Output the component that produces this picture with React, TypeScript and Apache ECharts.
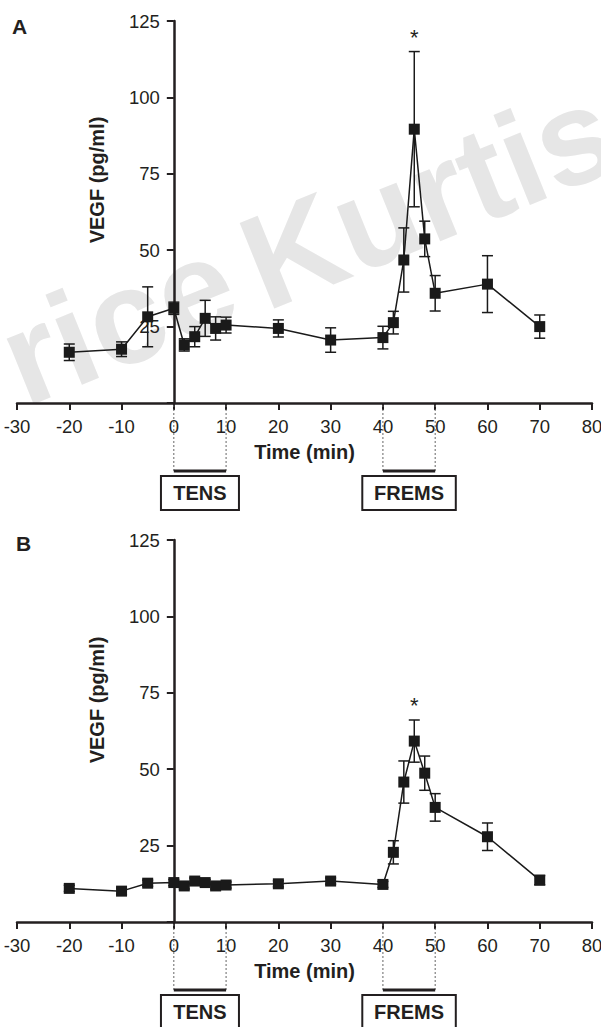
import React, { useEffect, useRef } from "react";
import * as echarts from "echarts";

// ---- data ----
const times = [-20, -10, -5, 0, 2, 4, 6, 8, 10, 20, 30, 40, 42, 44, 46, 48, 50, 60, 70];
const vegfA = [16.6, 17.6, 28.2, 31.0, 19.0, 21.7, 27.7, 24.4, 25.5, 24.4, 20.6, 21.4, 26.3, 46.8, 89.6, 53.7, 35.9, 38.9, 25.0];
const errA = [2.7, 2.4, 9.8, 2.0, 2.0, 3.3, 5.9, 3.8, 2.6, 2.8, 4.0, 3.7, 3.7, 10.5, 25.4, 5.8, 5.8, 9.3, 3.8];
const vegfB = [11.0, 10.1, 12.7, 12.9, 11.8, 13.4, 12.9, 11.8, 12.1, 12.5, 13.4, 12.3, 22.8, 45.8, 59.2, 48.7, 37.5, 27.9, 13.7];
const errB = [1.0, 1.0, 1.0, 1.0, 1.0, 1.0, 1.0, 1.0, 1.0, 1.0, 1.0, 1.0, 3.8, 6.9, 6.9, 5.6, 4.5, 4.5, 1.5];
const starTime = 46;
const xTicks = { min: -30, max: 80, interval: 10 };
const yTicks = { min: 0, max: 125, interval: 25 };
const stimStart = [0, 40];
const stimEnd = [10, 50];
const stimLabels = ["TENS", "FREMS"];
const panelLabels = ["A", "B"];
const yTitle = "VEGF (pg/ml)";
const xTitle = "Time (min)";
const watermark = ["rice", "Kurtis"];

const FONT = "'Liberation Sans', Arial, Helvetica, sans-serif";
const INK = "#231f20";

const GRID_LEFT = 17;
const GRID_WIDTH = 575;

function buildOption() {
  const grids = [
    { left: GRID_LEFT, top: 21, width: GRID_WIDTH, height: 382, outerBoundsMode: "none", containLabel: false },
    { left: GRID_LEFT, top: 540, width: GRID_WIDTH, height: 382, outerBoundsMode: "none", containLabel: false },
  ];
  const panels = [
    { v: vegfA, e: errA },
    { v: vegfB, e: errB },
  ];
  // y axis sits at time 0: shift it inward from the grid's left edge
  const zeroOffset = ((0 - xTicks.min) / (xTicks.max - xTicks.min)) * GRID_WIDTH;

  const xAxis = grids.map((_, i) => ({
    type: "value",
    gridIndex: i,
    min: xTicks.min,
    max: xTicks.max,
    interval: xTicks.interval,
    axisLine: { show: true, onZero: false, lineStyle: { color: INK, width: 2.5 } },
    axisTick: { show: true, length: 7, lineStyle: { color: INK, width: 2 } },
    axisLabel: { margin: 14, fontSize: 18.5, color: INK, fontFamily: FONT },
    splitLine: { show: false },
    name: xTitle,
    nameLocation: "middle",
    nameGap: 39,
    nameTextStyle: { fontSize: 20, fontWeight: "bold", color: INK, fontFamily: FONT },
  }));

  const yAxis = grids.map((_, i) => ({
    type: "value",
    gridIndex: i,
    position: "left",
    offset: -zeroOffset,
    min: yTicks.min,
    max: yTicks.max,
    interval: yTicks.interval,
    axisLine: { show: true, onZero: false, lineStyle: { color: INK, width: 2.5 } },
    axisTick: { show: true, length: 7, lineStyle: { color: INK, width: 2 } },
    axisLabel: {
      margin: 14,
      fontSize: 18.5,
      color: INK,
      fontFamily: FONT,
      formatter: (v: number) => (v === 0 ? "" : String(v)),
    },
    splitLine: { show: false },
  }));

  const series: any[] = [];
  panels.forEach((p, i) => {
    // error bars
    series.push({
      type: "custom",
      xAxisIndex: i,
      yAxisIndex: i,
      z: 3,
      encode: { x: 0, y: [1, 2] },
      data: times.map((t, k) => [t, p.v[k] - p.e[k], p.v[k] + p.e[k]]),
      renderItem: (params: any, api: any) => {
        const x = api.value(0);
        const top = api.coord([x, api.value(2)]);
        const bot = api.coord([x, api.value(1)]);
        const w = 5.5;
        const st = { stroke: "#1a1a1a", lineWidth: 1.5 };
        return {
          type: "group",
          children: [
            { type: "line", shape: { x1: top[0], y1: top[1], x2: bot[0], y2: bot[1] }, style: st },
            { type: "line", shape: { x1: top[0] - w, y1: top[1], x2: top[0] + w, y2: top[1] }, style: st },
            { type: "line", shape: { x1: bot[0] - w, y1: bot[1], x2: bot[0] + w, y2: bot[1] }, style: st },
          ],
        };
      },
    });
    // mean line with square markers
    series.push({
      type: "line",
      xAxisIndex: i,
      yAxisIndex: i,
      z: 4,
      data: times.map((t, k) => [t, p.v[k]]),
      symbol: "rect",
      symbolSize: 11,
      showSymbol: true,
      lineStyle: { color: "#1a1a1a", width: 1.5 },
      itemStyle: { color: "#1a1a1a" },
    });
    // significance asterisk, drawn just above the upper error cap
    const si = times.indexOf(starTime);
    series.push({
      type: "custom",
      xAxisIndex: i,
      yAxisIndex: i,
      z: 5,
      clip: false,
      encode: { x: 0, y: 1 },
      data: [[starTime, p.v[si] + p.e[si]]],
      renderItem: (params: any, api: any) => {
        const pt = api.coord([api.value(0), api.value(1)]);
        return {
          type: "text",
          x: pt[0],
          y: pt[1] - 3,
          style: {
            text: "*",
            fontSize: 22,
            fontFamily: FONT,
            fill: INK,
            align: "center",
            verticalAlign: "bottom",
          },
        };
      },
    });
    // stimulation periods under the x axis
    series.push({
      type: "custom",
      xAxisIndex: i,
      yAxisIndex: i,
      clip: false,
      z: 1,
      encode: { x: [0, 1] },
      data: stimStart.map((s, k) => [s, stimEnd[k]]),
      renderItem: (params: any, api: any) => {
        const p0 = api.coord([api.value(0), 0]);
        const p1 = api.coord([api.value(1), 0]);
        const ya = p0[1];
        const label = stimLabels[params.dataIndex];
        const cx = (p0[0] + p1[0]) / 2;
        const bw = label.length * 15.5 + 16;
        const dash = { stroke: "#666", lineWidth: 1, lineDash: [2, 2] };
        return {
          type: "group",
          children: [
            { type: "line", shape: { x1: p0[0], y1: ya + 2, x2: p0[0], y2: ya + 68 }, style: dash },
            { type: "line", shape: { x1: p1[0], y1: ya + 2, x2: p1[0], y2: ya + 68 }, style: dash },
            { type: "line", shape: { x1: p0[0], y1: ya + 68, x2: p1[0], y2: ya + 68 }, style: { stroke: INK, lineWidth: 3 } },
            {
              type: "rect",
              shape: { x: cx - bw / 2, y: ya + 73, width: bw, height: 34 },
              style: { fill: "#fff", stroke: INK, lineWidth: 2 },
            },
            {
              type: "text",
              x: cx,
              y: ya + 90,
              style: {
                text: label,
                fontSize: 20,
                fontWeight: "bold",
                fontFamily: FONT,
                fill: INK,
                align: "center",
                verticalAlign: "middle",
              },
            },
          ],
        };
      },
    });
  });

  const wm = {
    fontSize: 134,
    fontWeight: "bold",
    fontFamily: FONT,
    fill: "#e6e6e6",
    align: "center",
    verticalAlign: "middle",
  };
  const rot = (22 * Math.PI) / 180;
  const graphic: any[] = [
    { type: "text", z: -10, x: 118, y: 320, rotation: rot, style: { ...wm, text: watermark[0] } },
    { type: "text", z: -10, x: 428, y: 196, rotation: rot, style: { ...wm, text: watermark[1] } },
    {
      type: "text",
      x: 12,
      y: 26,
      style: { text: panelLabels[0], fontSize: 21, fontWeight: "bold", fontFamily: FONT, fill: INK, verticalAlign: "middle" },
    },
    {
      type: "text",
      x: 16,
      y: 543,
      style: { text: panelLabels[1], fontSize: 21, fontWeight: "bold", fontFamily: FONT, fill: INK, verticalAlign: "middle" },
    },
    {
      type: "text",
      x: 97,
      y: 180,
      rotation: Math.PI / 2,
      style: { text: yTitle, fontSize: 20, fontWeight: "bold", fontFamily: FONT, fill: INK, align: "center", verticalAlign: "middle" },
    },
    {
      type: "text",
      x: 97,
      y: 700,
      rotation: Math.PI / 2,
      style: { text: yTitle, fontSize: 20, fontWeight: "bold", fontFamily: FONT, fill: INK, align: "center", verticalAlign: "middle" },
    },
  ];

  return {
    animation: false,
    backgroundColor: "#fff",
    grid: grids,
    xAxis,
    yAxis,
    series,
    graphic,
  };
}

export default function App() {
  const ref = useRef<HTMLDivElement>(null);
  useEffect(() => {
    if (!ref.current) return;
    const chart = echarts.init(ref.current, undefined, { renderer: "svg" });
    chart.setOption(buildOption() as any);
    return () => chart.dispose();
  }, []);
  return (
    <div
      ref={ref}
      style={{ position: "absolute", left: 0, top: 0, width: 601, height: 1027 }}
    />
  );
}
